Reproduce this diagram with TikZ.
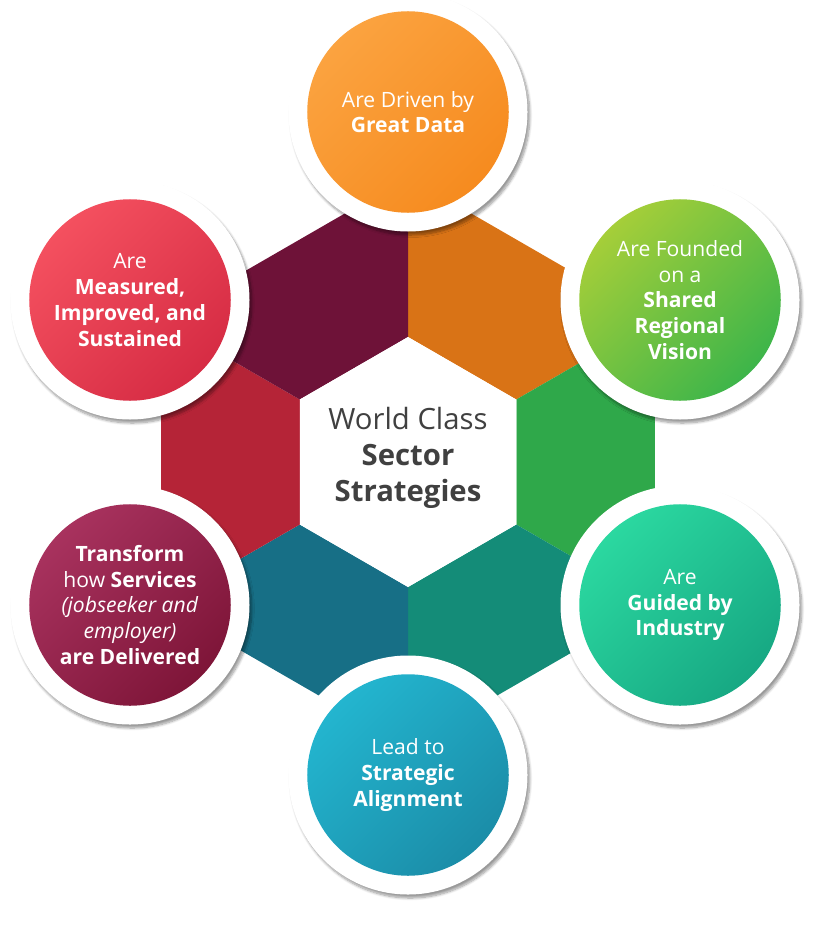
\documentclass[tikz,border=0pt]{standalone}
\usepackage{fontspec}
\setmainfont{Open Sans}
\usetikzlibrary{shadows.blur}
\definecolor{cOr}{HTML}{F68B1F}\definecolor{cOrL}{HTML}{FBA340}
\definecolor{cGr}{HTML}{3DB54A}\definecolor{cGrL}{HTML}{A5CE39}
\definecolor{cTe}{HTML}{17A883}\definecolor{cTeL}{HTML}{2BD8A0}
\definecolor{cBl}{HTML}{1B8DA8}\definecolor{cBlL}{HTML}{23B5CF}
\definecolor{cMa}{HTML}{7E1538}\definecolor{cMaL}{HTML}{A8325E}
\definecolor{cRe}{HTML}{D62C44}\definecolor{cReL}{HTML}{F4505F}
\definecolor{bOr}{HTML}{D97316}\definecolor{bGr}{HTML}{2FA84A}
\definecolor{bTe}{HTML}{148C78}\definecolor{bBl}{HTML}{176F86}
\definecolor{bMa}{HTML}{B52437}\definecolor{bRe}{HTML}{6E1238}
\tikzset{
 ring/.style={circle,fill=white,minimum size=204,inner sep=0pt,blur shadow={shadow blur steps=8,shadow xshift=2pt,shadow yshift=-3pt}},
 disk/.style={circle,minimum size=172,inner sep=0pt,align=center,text=white,font=\fontsize{18}{22}\selectfont},
}
\begin{document}
\begin{tikzpicture}[x=0.03cm,y=-0.03cm]
\useasboundingbox (0,0) rectangle (836,930);
\def\cx{408}\def\cy{462}
% band segments
\foreach \a/\col in {90/bOr,30/bGr,-30/bTe,-90/bBl,-150/bMa,150/bRe}{
 \pgfmathsetmacro\b{\a-60}
 \fill[\col] ({\cx+125*cos(\a)},{\cy-125*sin(\a)}) -- ({\cx+285*cos(\a)},{\cy-285*sin(\a)})
   -- ({\cx+285*cos(\b)},{\cy-285*sin(\b)}) -- ({\cx+125*cos(\b)},{\cy-125*sin(\b)}) -- cycle;
}
\fill[white] ({\cx+125*cos(90)},{\cy-125*sin(90)}) \foreach \a in {30,-30,-90,-150,150}{ -- ({\cx+125*cos(\a)},{\cy-125*sin(\a)})} -- cycle;
\node[align=center,text=black!75,font=\fontsize{25}{31}\selectfont] (ctr) at (408,458) {World Class\\\textbf{Sector}\\\textbf{Strategies}};
% circles
\foreach \n/\x/\y/\c/\l in {o/408/112/cOr/cOrL,g/680/300/cGr/cGrL,t/680/605/cTe/cTeL,b/408/775/cBl/cBlL,m/130/605/cMa/cMaL,r/130/300/cRe/cReL}{
 \node[ring] (\n r) at (\x,\y) {};
 \node[disk,top color=\l,bottom color=\c,shading angle=45] (\n) at (\x,\y) {};
}
\node[disk] at (o) {Are Driven by\\\textbf{Great Data}};
\node[disk] at (g) {Are Founded\\on a\\\textbf{Shared}\\\textbf{Regional}\\\textbf{Vision}};
\node[disk] at (t) {Are\\\textbf{Guided by}\\\textbf{Industry}};
\node[disk] at (b) {Lead to\\\textbf{Strategic}\\\textbf{Alignment}};
\node[disk] at (m) {\textbf{Transform}\\how \textbf{Services}\\\textit{(jobseeker and}\\\textit{employer)}\\\textbf{are Delivered}};
\node[disk] at (r) {Are\\\textbf{Measured,}\\\textbf{Improved, and}\\\textbf{Sustained}};
\end{tikzpicture}
\end{document}
